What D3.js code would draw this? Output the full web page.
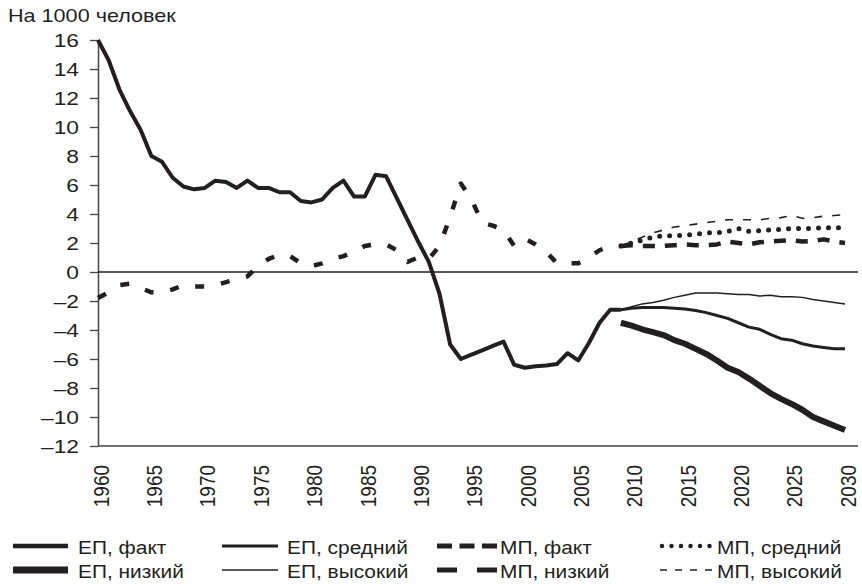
<!DOCTYPE html>
<html>
<head>
<meta charset="utf-8">
<script src="https://cdn.jsdelivr.net/npm/d3@7"></script>
<style>
  body { margin: 0; background: #fff; }
  text { font-family: "Liberation Sans", Arial, sans-serif; fill: #231f20; }
</style>
</head>
<body>
<div id="chart"></div>
<script>
// years
var factYears = d3.range(1960, 2010);
var projYears = d3.range(2009, 2031);
var xTicks = d3.range(1960, 2031, 5);
var yTicks = [-12, -10, -8, -6, -4, -2, 0, 2, 4, 6, 8, 10, 12, 14, 16];

// естественный прирост, факт
var epFact = [16.0, 14.6, 12.6, 11.1, 9.8, 8.0, 7.6, 6.5, 5.9, 5.7,
	5.8, 6.3, 6.2, 5.8, 6.3, 5.8, 5.8, 5.5, 5.5, 4.9,
	4.8, 5.0, 5.8, 6.3, 5.2, 5.2, 6.7, 6.6, 5.1, 3.6,
	2.1, 0.7, -1.5, -5.0, -6.0, -5.7, -5.4, -5.1, -4.8, -6.4,
	-6.6, -6.5, -6.45, -6.35, -5.6, -6.1, -4.9, -3.5, -2.6, -2.6];
// миграционный прирост, факт
var mpFact = [-1.8, -1.4, -0.9, -0.8, -1.1, -1.4, -1.4, -1.2, -0.9, -1.0,
	-1.0, -0.9, -0.7, -0.5, -0.3, 0.4, 0.9, 1.2, 1.1, 0.6,
	0.4, 0.6, 0.9, 1.1, 1.4, 1.8, 1.9, 1.9, 1.5, 0.7,
	1.0, 0.9, 1.8, 3.8, 6.1, 5.0, 3.4, 3.2, 2.9, 1.8,
	2.3, 1.9, 1.4, 0.6, 0.6, 0.6, 1.0, 1.5, 1.8, 1.8];

// прогнозы 2009-2030
var epMid = [-2.6, -2.5, -2.45, -2.45, -2.45, -2.5, -2.55, -2.65, -2.8, -3.0, -3.2,
	-3.5, -3.8, -3.95, -4.3, -4.6, -4.7, -4.95, -5.1, -5.2, -5.3, -5.3];
var epLow = [-3.5, -3.7, -3.95, -4.15, -4.35, -4.7, -4.95, -5.3, -5.65, -6.1, -6.6,
	-6.9, -7.35, -7.85, -8.35, -8.75, -9.1, -9.5, -10.0, -10.3, -10.6, -10.9];
var epHigh = [-2.6, -2.4, -2.2, -2.1, -1.95, -1.75, -1.6, -1.45, -1.45, -1.45, -1.5,
	-1.55, -1.55, -1.65, -1.6, -1.7, -1.7, -1.75, -1.9, -2.0, -2.1, -2.2];
var mpMid = [1.8, 2.0, 2.2, 2.4, 2.5, 2.5, 2.55, 2.6, 2.7, 2.7, 2.8,
	3.0, 2.8, 2.85, 2.9, 2.95, 3.0, 3.0, 3.0, 3.05, 3.05, 3.05];
var mpLow = [1.8, 1.85, 1.8, 1.8, 1.8, 1.85, 1.9, 1.85, 1.85, 1.9, 2.1,
	2.0, 1.9, 2.05, 2.1, 2.15, 2.2, 2.1, 2.15, 2.25, 2.1, 2.0];
var mpHigh = [1.8, 2.1, 2.4, 2.7, 2.9, 3.1, 3.2, 3.3, 3.4, 3.5, 3.6,
	3.6, 3.6, 3.6, 3.7, 3.75, 3.9, 3.7, 3.75, 3.85, 3.9, 3.95];

var names = ["ЕП, факт", "ЕП, средний", "МП, факт", "МП, средний",
	"ЕП, низкий", "ЕП, высокий", "МП, низкий", "МП, высокий"];

var series = [
	{ name: "ЕП, факт", years: factYears, values: epFact },
	{ name: "ЕП, средний", years: projYears, values: epMid },
	{ name: "МП, факт", years: factYears, values: mpFact },
	{ name: "МП, средний", years: projYears, values: mpMid },
	{ name: "ЕП, низкий", years: projYears, values: epLow },
	{ name: "ЕП, высокий", years: projYears, values: epHigh },
	{ name: "МП, низкий", years: projYears, values: mpLow },
	{ name: "МП, высокий", years: projYears, values: mpHigh }
];

var ink = "#231f20";
var sx = 1.2;   // glyphs are a bit wide in the original
var lsx = 1.1;  // legend text is less stretched

// line styles on plot / in legend
var styles = {};
styles["ЕП, факт"] = { w: 4, dash: null, lw: 4.5, ldash: null };
styles["ЕП, средний"] = { w: 3, dash: null, lw: 3, ldash: null };
styles["МП, факт"] = { w: 4.5, dash: "9,17", lw: 5, ldash: "15,7.5" };
styles["МП, средний"] = { w: 5, dash: "0,10", lw: 4.5, ldash: "0,9.5", round: true };
styles["ЕП, низкий"] = { w: 6, dash: null, lw: 7, ldash: null };
styles["ЕП, высокий"] = { w: 1.5, dash: null, lw: 1.5, ldash: null };
styles["МП, низкий"] = { w: 4.5, dash: "12,10", lw: 5, ldash: "20,20" };
styles["МП, высокий"] = { w: 1.6, dash: "8,10", lw: 1.6, ldash: "7,8" };

var width = 862, height = 584;

var x = d3.scaleLinear().domain([1960, 2030]).range([98, 845]);
var y = d3.scaleLinear().domain([-12, 16]).range([446, 40]);

var svg = d3.select("#chart").append("svg")
	.attr("width", width)
	.attr("height", height);

// title
svg.append("text")
	.attr("transform", "translate(8,22) scale(" + sx + ",1)")
	.style("font-size", "18px")
	.text("На 1000 человек");

// y axis
var yAxis = d3.axisLeft(y)
	.tickValues(yTicks)
	.tickSize(8)
	.tickSizeOuter(0)
	.tickFormat(function(d) { return d < 0 ? "\u2013" + Math.abs(d) : d; });

var gy = svg.append("g")
	.attr("transform", "translate(98,0)")
	.call(yAxis);
gy.select(".domain").attr("stroke", "#444").attr("stroke-width", 1.5);
gy.selectAll(".tick line").attr("stroke", "#444").attr("stroke-width", 1.3);
gy.selectAll(".tick text")
	.attr("x", 0)
	.attr("dy", "0.34em")
	.attr("transform", "translate(-19,0) scale(" + sx + ",1)")
	.style("font-size", "19px")
	.style("font-family", null)
	.attr("fill", ink);

// x axis (labels only, baseline drawn separately)
var xAxis = d3.axisBottom(x)
	.tickValues(xTicks)
	.tickSize(0)
	.tickSizeOuter(0)
	.tickFormat(d3.format("d"));

var gx = svg.append("g")
	.attr("transform", "translate(0,446)")
	.call(xAxis);
gx.select(".domain").remove();
gx.selectAll(".tick text")
	.attr("x", 0)
	.attr("y", 0)
	.attr("dy", "0.36em")
	.style("text-anchor", "end")
	.attr("transform", "translate(2,19) scale(" + sx + ",1) rotate(-90)")
	.style("font-size", "19px")
	.style("font-family", null)
	.attr("fill", ink);

svg.append("line")
	.attr("x1", 98).attr("x2", 858)
	.attr("y1", y(-12)).attr("y2", y(-12))
	.attr("stroke", "#444")
	.attr("stroke-width", 1.5);

// zero line
svg.append("line")
	.attr("x1", 98).attr("x2", 858)
	.attr("y1", y(0)).attr("y2", y(0))
	.attr("stroke", ink)
	.attr("stroke-width", 1.3);

var line = d3.line()
	.x(function(d) { return x(d[0]); })
	.y(function(d) { return y(d[1]); });

series.forEach(function(s) {
	var st = styles[s.name];
	var pts = s.years.map(function(yr, i) { return [yr, s.values[i]]; });
	svg.append("path")
		.datum(pts)
		.attr("d", line)
		.attr("fill", "none")
		.attr("stroke", ink)
		.attr("stroke-width", st.w)
		.attr("stroke-dasharray", st.dash)
		.attr("stroke-linecap", st.round ? "round" : "butt")
		.attr("stroke-linejoin", "round");
});

// legend
var colLine0 = [13, 222, 437, 660];
var colLine1 = [68, 278, 497, 712];
var colText = [78, 287, 500, 717];
var rowY = [546, 570];

names.forEach(function(n, i) {
	var col = i % 4, row = Math.floor(i / 4);
	var st = styles[n];
	var g = svg.append("g").attr("class", "legend");
	g.append("line")
		.attr("x1", colLine0[col] + (st.round ? 2 : 0)).attr("x2", colLine1[col])
		.attr("y1", rowY[row]).attr("y2", rowY[row])
		.attr("stroke", ink)
		.attr("stroke-width", st.lw)
		.attr("stroke-dasharray", st.ldash)
		.attr("stroke-linecap", st.round ? "round" : "butt");
	g.append("text")
		.attr("transform", "translate(" + colText[col] + "," + (rowY[row] + 8) + ") scale(" + lsx + ",1)")
		.style("font-size", "19px")
		.text(n);
});
</script>
</body>
</html>
